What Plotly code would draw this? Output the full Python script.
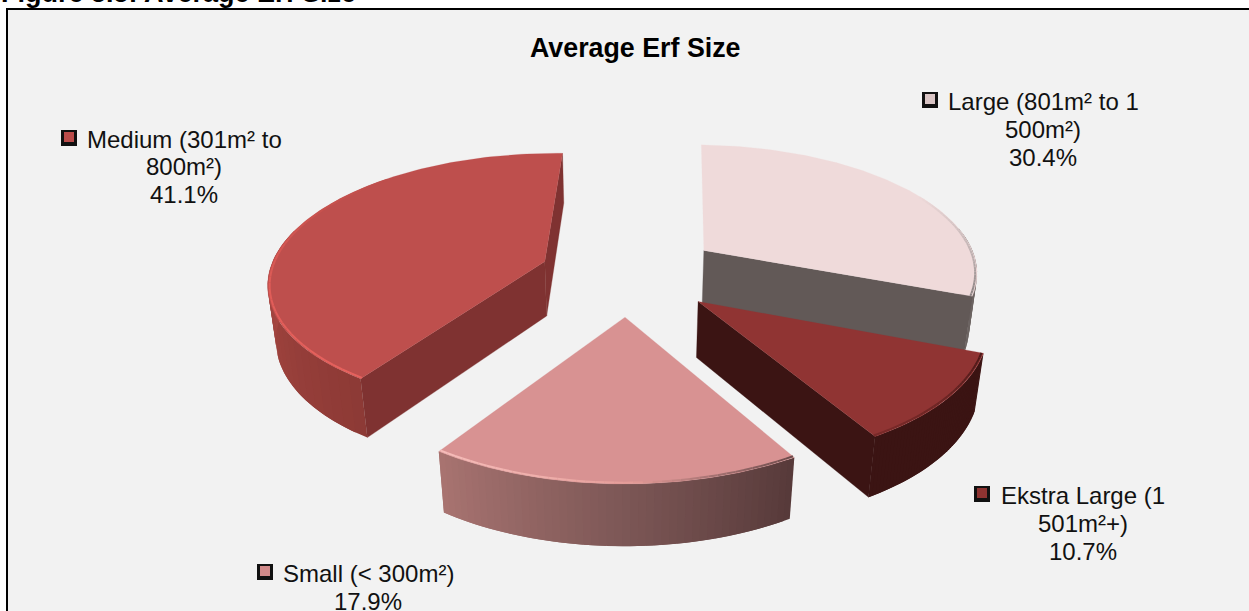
import numpy as np
import plotly.graph_objects as go

# ---- data ----
categories = ["Large (801m² to 1 500m²)", "Ekstra Large (1 501m²+)", "Small (< 300m²)", "Medium (301m² to 800m²)"]
values = [30.4, 10.7, 17.9, 41.1]
percent_labels = ["30.4%", "10.7%", "17.9%", "41.1%"]
label_lines = [
    ["Large (801m² to 1", "500m²)", "30.4%"],
    ["Ekstra Large (1", "501m²+)", "10.7%"],
    ["Small (< 300m²)", "17.9%"],
    ["Medium (301m² to", "800m²)", "41.1%"],
]
title_text = "Average Erf Size"
figure_caption = "Figure 5.5: Average Erf Size"

# ---- styles ----
top_colors = ["#EFDADA", "#903433", "#D89292", "#BE4F4D"]
radial_colors = ["#625957", "#3B1413", "#5A3A3A", "#7F3231"]
wall_stops = [  # colour along each slice's outer wall, start angle to end angle
    ["#625957", "#625957", "#6E6664"],
    ["#3B1413", "#3B1413", "#3B1413"],
    ["#573A3A", "#7F5958", "#A97471"],
    ["#8D3A36", "#AE4B45", "#B04D48"],
]
rim_stops = [  # (position along slice, colour)
    [(0.55, "#EFDADA"), (0.85, "#B9ADAD"), (1.0, "#8A8282")],
    [(0.0, "#4A1918"), (0.5, "#6A2524"), (1.0, "#7A2B2A")],
    [(0.0, "#6A4A4A"), (0.25, "#A87474"), (0.45, "#E59C98"), (0.7, "#F0B0AC"), (1.0, "#F6BDBA")],
    [(0.0, "#E8635F"), (0.3, "#E05D58"), (0.55, "#C9534F"), (0.7, "#BE4F4D")],
]
key_colors = ["#D9C4C4", "#8E3331", "#D18A8A", "#BB4C4A"]
FONT = "Liberation Sans, Arial, sans-serif"
label_style = dict(size=24, color="#111111", family=FONT)
# label anchor: key square centre, text centre, first line y, line step
label_places = [(930, 1043, 101, 28), (982, 1083, 495, 28), (265, 368, 573, 28), (69, 184, 139, 27.5)]

# ---- perspective projection of the exploded pie ----
X0, Y0, RX, RY, K, M, H, PHI = 627.8, 273.86, 276.08, 127.76, 0.1483, 0.0232, 56.26, 0.0301
EXPLODE = [0.3399, 0.3234, 0.3227, 0.3204]
fractions = np.array(values) / sum(values)
edges = np.concatenate([[0], np.cumsum(fractions)]) * 2 * np.pi


def project(i, t, r, z):
    mid = (edges[i] + edges[i + 1]) / 2 + PHI
    th = edges[i] + np.asarray(t) * (edges[i + 1] - edges[i]) + PHI
    X = EXPLODE[i] * np.sin(mid) + r * np.sin(th)
    Y = EXPLODE[i] * np.cos(mid) + r * np.cos(th)
    w = 1 + K * Y - M * z
    return X0 + RX * X / w, Y0 - RY * Y / w - H * z / w


def rgb(h):
    return np.array([int(h[j:j + 2], 16) for j in (1, 3, 5)], float)


def mix(stops, t):
    pos = [s[0] for s in stops]
    cols = np.array([rgb(s[1]) for s in stops])
    c = [np.interp(t, pos, cols[:, j]) for j in range(3)]
    return "rgb(%d,%d,%d)" % tuple(c)


fig = go.Figure()


def poly(xs, ys, color, seam=0.0):
    fig.add_trace(go.Scatter(x=list(xs), y=list(ys), mode="lines", fill="toself", fillcolor=color,
                             line=dict(color=color, width=seam), hoverinfo="skip", showlegend=False))


def radial(i, t):
    ax, ay = project(i, t, 0, 0)
    ex, ey = project(i, t, 1, 0)
    ex2, ey2 = project(i, t, 1, -1)
    ax2, ay2 = project(i, t, 0, -1)
    poly([ax, ex, ex2, ax2, ax], [ay, ey, ey2, ay2, ay], radial_colors[i], seam=0.3)


def faces_viewer(i, t):
    th = edges[i] + t * (edges[i + 1] - edges[i]) + PHI
    return (np.sin(th) > 0) == (t == 1.0)


for i in [0, 3, 1, 2]:  # back to front
    steps = np.linspace(0, 1, 49)
    dt = steps[1] - steps[0]
    stops = list(zip([0, 0.5, 1], wall_stops[i]))
    for a in steps[:-1]:
        th = edges[i] + (a + dt / 2) * (edges[i + 1] - edges[i]) + PHI
        if np.cos(th) > 0.2:
            continue
        seg = np.linspace(a, min(1.0, a + 2 * dt), 4)
        x1, y1 = project(i, seg, 1, 0)
        x2, y2 = project(i, seg[::-1], 1, -1)
        poly(np.r_[x1, x2, x1[0]], np.r_[y1, y2, y1[0]], mix(stops, a + dt / 2))
    for t in (0.0, 1.0):
        if faces_viewer(i, t):
            radial(i, t)
    ts = np.linspace(0, 1, 120)
    ex, ey = project(i, ts, 1, 0)
    ax, ay = project(i, 0, 0, 0)
    poly(np.r_[ax, ex, ax], np.r_[ay, ey, ay], top_colors[i], seam=0.2)
    rim_ts = np.linspace(rim_stops[i][0][0], rim_stops[i][-1][0], 41)
    rx, ry = project(i, rim_ts, 0.993, 0)
    for j in range(len(rim_ts) - 1):
        fig.add_trace(go.Scatter(x=rx[j:j + 2], y=ry[j:j + 2], mode="lines", hoverinfo="skip", showlegend=False,
                                 line=dict(color=mix(rim_stops[i], (rim_ts[j] + rim_ts[j + 1]) / 2), width=2)))

annotations = [dict(x=635, y=48, text=title_text, showarrow=False,
                    font=dict(size=26.8, color="#000000", family=FONT, weight="bold")),
               dict(x=0, y=9, text=figure_caption, showarrow=False, xanchor="left", yanchor="bottom", borderpad=0,
                    font=dict(size=27, color="#000000", family=FONT, weight="bold"))]
for lines, (kx, tx, ty, step), kc in zip(label_lines, label_places, key_colors):
    for n, line in enumerate(lines):
        annotations.append(dict(x=tx, y=ty + n * step, text=line, showarrow=False, font=label_style))
    fig.add_trace(go.Scatter(x=[kx], y=[ty - 1], mode="markers", hoverinfo="skip", showlegend=False,
                             marker=dict(symbol="square", size=16, color="#111111", line=dict(width=0))))
    fig.add_trace(go.Scatter(x=[kx], y=[ty - 2], mode="markers", hoverinfo="skip", showlegend=False,
                             marker=dict(symbol="square", size=10, color=kc, line=dict(width=0))))

fig.update_layout(
    width=1249, height=611, margin=dict(l=0, r=0, t=0, b=0), showlegend=False,
    xaxis=dict(range=[0, 1249], visible=False, fixedrange=True),
    yaxis=dict(range=[611, 0], visible=False, fixedrange=True),
    plot_bgcolor="white", paper_bgcolor="white", annotations=annotations,
    shapes=[dict(type="rect", xref="x", yref="y", x0=7, y0=9, x1=1320, y1=700, layer="below",
                 fillcolor="#F2F2F2", line=dict(color="#000000", width=2))],
)
fig.write_html("out.html", config={"displayModeBar": False}, post_script="document.body.style.margin='0';")
